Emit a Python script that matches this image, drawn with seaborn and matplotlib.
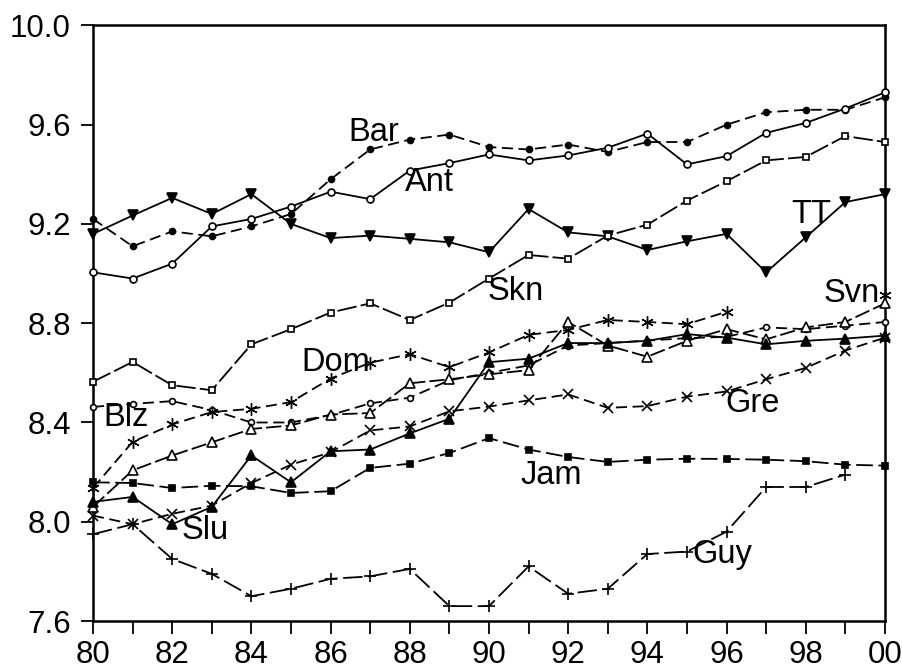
import matplotlib
matplotlib.use("Agg")
import matplotlib.pyplot as plt
import seaborn as sns
import numpy as np
import pandas as pd

# data (log levels, 1980-2000)
years = list(range(1980, 2001))

bar = [9.22, 9.11, 9.17, 9.15, 9.19, 9.24, 9.38, 9.50, 9.54, 9.56, 9.51,
       9.50, 9.52, 9.49, 9.53, 9.53, 9.60, 9.65, 9.66, 9.66, 9.71]
ant = [9.005, 8.98, 9.04, 9.19, 9.22, 9.27, 9.33, 9.30, 9.415, 9.445, 9.48,
       9.456, 9.476, 9.507, 9.564, 9.44, 9.473, 9.567, 9.607, 9.665, 9.73]
tt = [9.16, 9.234, 9.305, 9.24, 9.32, 9.20, 9.143, 9.153, 9.14, 9.126, 9.086,
      9.26, 9.166, 9.15, 9.095, 9.13, 9.16, 9.005, 9.146, 9.288, 9.32]
skn = [8.564, 8.644, 8.55, 8.53, 8.715, 8.776, 8.843, 8.88, 8.813, 8.883, 8.98,
       9.075, 9.06, 9.153, 9.197, 9.294, 9.372, 9.456, 9.47, 9.554, 9.53]
blz = [8.463, 8.475, 8.486, 8.45, 8.40, 8.40, 8.43, 8.477, 8.50, 8.57, 8.60,
       8.63, 8.71, 8.72, 8.73, 8.74, 8.745, 8.783, 8.776, 8.79, 8.805]
dom = [8.136, 8.322, 8.392, 8.442, 8.455, 8.482, 8.577, 8.641, 8.675, 8.623, 8.682,
       8.753, 8.773, 8.813, 8.805, 8.796, 8.846, np.nan, np.nan, np.nan, 8.913]
svn = [8.06, 8.207, 8.267, 8.32, 8.374, 8.388, 8.432, 8.438, 8.558, 8.574, 8.594,
       8.611, 8.805, 8.71, 8.665, 8.729, 8.776, 8.735, 8.783, 8.805, 8.88]
slu = [8.08, 8.10, 7.99, 8.06, 8.267, 8.159, 8.284, 8.291, 8.356, 8.415, 8.643,
       8.657, 8.72, 8.72, 8.729, 8.756, 8.742, 8.715, 8.729, 8.738, 8.75]
gre = [8.025, 7.99, 8.032, 8.065, 8.156, 8.23, 8.28, 8.368, 8.384, 8.445, 8.464,
       8.489, 8.513, 8.459, 8.466, 8.504, 8.525, 8.574, 8.62, 8.69, 8.742]
jam = [8.159, 8.156, 8.136, 8.145, 8.143, 8.116, 8.123, 8.217, 8.234, 8.277, 8.337,
       8.291, 8.261, 8.241, 8.25, 8.254, 8.253, 8.25, 8.244, 8.23, 8.226]
guy = [7.95, 7.99, 7.85, 7.79, 7.70, 7.73, 7.77, 7.78, 7.81, 7.66, 7.66,
       7.82, 7.71, 7.73, 7.87, 7.88, 7.96, 8.14, 8.14, 8.19, np.nan]

series = {"Bar": bar, "Ant": ant, "TT": tt, "Skn": skn, "Blz": blz, "Dom": dom,
          "Svn": svn, "Slu": slu, "Gre": gre, "Jam": jam, "Guy": guy}

# where the in-plot labels sit (year, baseline value)
label_pos = {"Bar": (1987.1, 9.535), "Ant": (1988.5, 9.334), "TT": (1998.13, 9.202),
             "Skn": (1990.68, 8.893), "Svn": (1999.16, 8.886), "Dom": (1986.13, 8.608),
             "Blz": (1980.83, 8.385), "Gre": (1996.65, 8.443), "Jam": (1991.56, 8.151),
             "Slu": (1982.83, 7.932), "Guy": (1995.89, 7.832)}

ast = (6, 2, 0)
styles = {
    "Bar": dict(marker="o", ms=4.3, mfc="black", ls=(0, (8, 4))),
    "Ant": dict(marker="o", ms=5.0, mfc="white", ls="-"),
    "TT":  dict(marker="v", ms=7.0, mfc="black", ls="-"),
    "Skn": dict(marker="s", ms=4.6, mfc="white", ls=(0, (14, 3))),
    "Blz": dict(marker="o", ms=4.2, mfc="white", ls=(0, (8, 4))),
    "Dom": dict(marker=ast, ms=9.0, mfc="black", ls=(0, (8, 4))),
    "Svn": dict(marker="^", ms=7.0, mfc="white", ls=(0, (11, 3))),
    "Slu": dict(marker="^", ms=7.0, mfc="black", ls="-"),
    "Gre": dict(marker="x", ms=6.5, mfc="black", ls=(0, (8, 4))),
    "Jam": dict(marker="s", ms=4.3, mfc="black", ls=(0, (12, 4))),
    "Guy": dict(marker="+", ms=9.0, mfc="black", ls=(0, (14, 4))),
}

sns.set_style("ticks")
plt.rcParams["font.family"] = ["Liberation Sans", "DejaVu Sans"]
plt.rcParams["lines.scale_dashes"] = False
plt.rcParams["text.color"] = "black"

fig = plt.figure(figsize=(9.03, 6.70), dpi=100)
ax = fig.add_axes([0.103, 0.0731, 0.877, 0.889])

for name, vals in series.items():
    df = pd.DataFrame({"year": years, "value": vals})
    # split into runs so missing years leave a gap
    ok = df["value"].notna()
    run_id = (~ok).cumsum()
    st = styles[name]
    mew = 1.0 if name == "Dom" else 1.2
    for _, chunk in df[ok].groupby(run_id[ok]):
        sns.lineplot(data=chunk, x="year", y="value", ax=ax, color="black",
                     linewidth=1.3, linestyle=st["ls"], marker=st["marker"],
                     markersize=st["ms"], markerfacecolor=st["mfc"],
                     markeredgecolor="black", markeredgewidth=mew,
                     legend=False, clip_on=False, zorder=3)

for name, (x, y) in label_pos.items():
    ax.text(x, y, name, fontsize=23.5, ha="center", va="baseline",
            color="black", zorder=5)

ax.set_xlim(1980, 2000)
ax.set_ylim(7.6, 10.0)
ax.set_xticks(years)
ax.set_xticklabels([f"{y % 100:02d}" if y % 2 == 0 else "" for y in years])
yt = np.arange(7.6, 10.01, 0.4)
ax.set_yticks(yt)
ax.set_yticklabels([f"{v:.1f}" for v in yt])
ax.set_xlabel("")
ax.set_ylabel("")

for sp in ax.spines.values():
    sp.set_linewidth(1.8)
    sp.set_color("black")
ax.tick_params(axis="both", direction="out", length=9, width=1.3,
               labelsize=22.5, colors="black", labelcolor="black")
ax.tick_params(axis="y", pad=7)
ax.tick_params(axis="x", pad=5)
ax.tick_params(right=False, top=False)

fig.savefig("out.png", dpi=100)
